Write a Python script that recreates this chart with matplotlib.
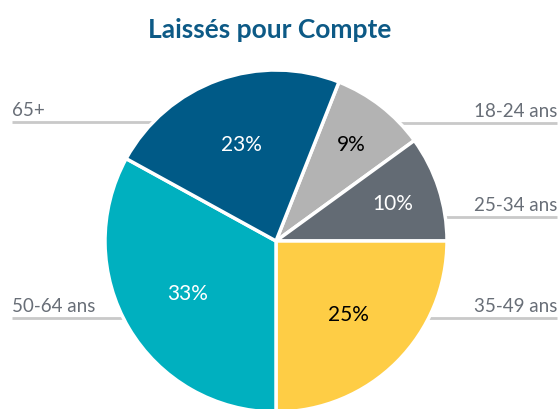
import numpy as np
import matplotlib
matplotlib.use("Agg")
import matplotlib.pyplot as plt

TITLE = "Laissés pour Compte"
LABELS = ["18-24 ans", "25-34 ans", "35-49 ans", "50-64 ans", "65+"]
SHARES = [9, 10, 25, 33, 23]
COLORS = ["#b3b3b3", "#636b74", "#fecd45", "#00b0bf", "#005a87"]
PCT_COLORS = ["black", "white", "black", "white", "white"]
# label side, row height (pixels from top)
LABEL_SIDE = ["right", "right", "right", "left", "left"]
LABEL_Y = [124, 218, 319, 319, 123]

W, H = 560, 410
CENTER = (276, H - 242)
RADIUS = 171
GRAY_TXT = "#686e77"
LINE_COLOR = "#c9c9c9"

plt.rcParams["font.family"] = ["Lato", "DejaVu Sans"]

fig = plt.figure(figsize=(W / 100, H / 100), dpi=100)
ax = fig.add_axes([0, 0, 1, 1])

# guide lines and labels (under the pie)
for lab, side, y in zip(LABELS, LABEL_SIDE, LABEL_Y):
    yy = H - y
    if side == "left":
        ax.plot([12, CENTER[0]], [yy, yy], color=LINE_COLOR, lw=2, zorder=0,
                solid_capstyle="butt")
        ax.text(12, yy + 4, lab, ha="left", va="bottom", fontsize=13.5,
                color=GRAY_TXT)
    else:
        ax.plot([CENTER[0], 557], [yy, yy], color=LINE_COLOR, lw=2, zorder=0,
                solid_capstyle="butt")
        ax.text(557, yy + 4, lab, ha="right", va="bottom", fontsize=13.5,
                color=GRAY_TXT)

start = 360 * (SHARES[0] + SHARES[1]) / sum(SHARES)
wedges, _ = ax.pie(SHARES, colors=COLORS, startangle=start, counterclock=False,
                   center=CENTER, radius=RADIUS, frame=True,
                   wedgeprops=dict(edgecolor="white", linewidth=2.5, zorder=2))

# percentage labels
for w, s, c in zip(wedges, SHARES, PCT_COLORS):
    mid = np.deg2rad((w.theta1 + w.theta2) / 2)
    d = 0.72 if s < 15 else 0.6
    ax.text(CENTER[0] + d * RADIUS * np.cos(mid),
            CENTER[1] + d * RADIUS * np.sin(mid),
            f"{s}%", ha="center", va="center", fontsize=15, color=c,
            zorder=3)

ax.text(270, H - 30, TITLE, ha="center", va="center", fontsize=19,
        fontweight="bold", color="#0d5a86")

ax.set_xlim(0, W)
ax.set_ylim(0, H)
ax.set_aspect("equal")
ax.axis("off")

fig.savefig("out.png", dpi=100)
